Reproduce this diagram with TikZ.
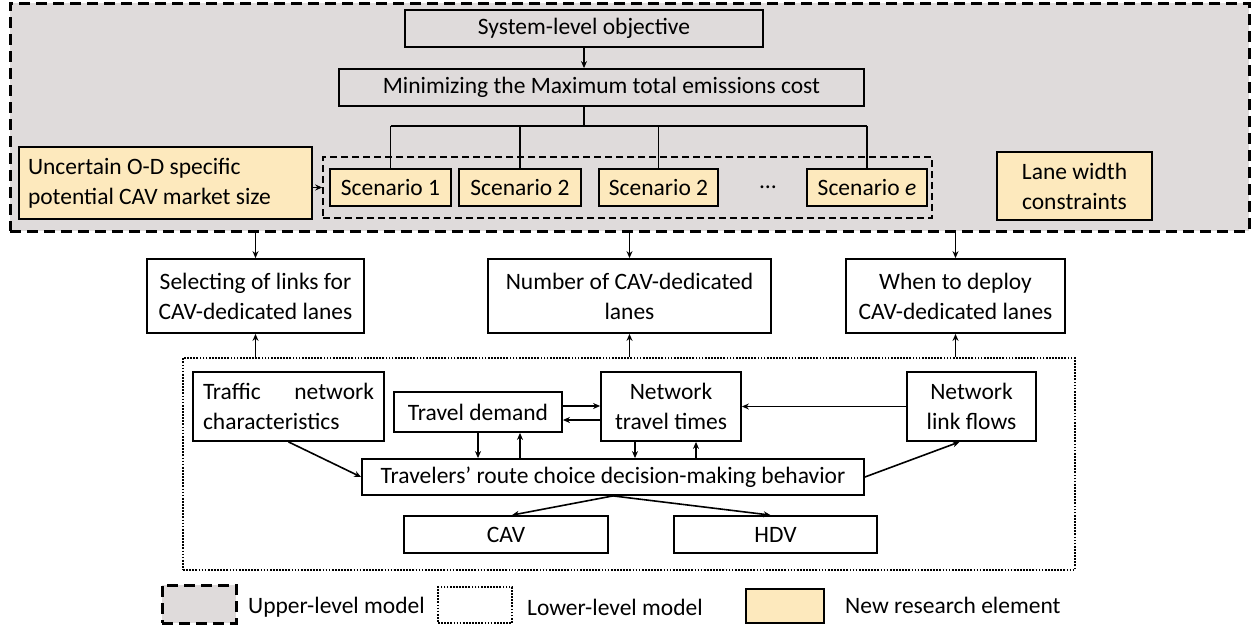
\documentclass[tikz,border=0pt]{standalone}
\usepackage{fontspec}
\setmainfont{Carlito}
\usetikzlibrary{arrows.meta}
\definecolor{upgray}{RGB}{223,219,219}
\definecolor{newyel}{RGB}{253,233,189}

\begin{document}
\begin{tikzpicture}[x=1pt,y=-1pt,
  font=\fontsize{23.5}{30}\selectfont,
  box/.style={draw, line width=1.8pt, inner sep=0pt, align=center},
  newbox/.style={box, fill=newyel},
  arr/.style={line width=1.6pt, -{Stealth[length=7pt,width=6pt]}},
  link/.style={line width=1.6pt},
  upperframe/.style={draw, line width=3pt, dash pattern=on 11pt off 6pt, fill=upgray, inner sep=0pt},
  scenframe/.style={draw, line width=1.6pt, dash pattern=on 7pt off 4pt, inner sep=0pt},
  lowerframe/.style={draw, line width=2.5pt, dash pattern=on 1.7pt off 1.4pt, inner sep=0pt},
  legtext/.style={anchor=west, inner sep=0pt}
]
\useasboundingbox (0,0) rectangle (1252,629);

% upper-level model frame
\node[upperframe, minimum width=1239pt, minimum height=228pt] (upper) at (629.5,117) {};

\node[box, minimum width=358pt, minimum height=37pt] (sys) at (584,28.5) {System-level objective};
\node[box, minimum width=525pt, minimum height=37pt] (mini) at (601.5,87.5) {Minimizing the Maximum total emissions cost};

\node[scenframe, minimum width=609pt, minimum height=61pt] (scen) at (627.5,187.5) {};
\node[newbox, minimum width=121pt, minimum height=37pt] (sc1) at (390.5,187.5) {Scenario 1};
\node[newbox, minimum width=122pt, minimum height=37pt] (sc2) at (520,187.5) {Scenario 2};
\node[newbox, minimum width=119pt, minimum height=37pt] (sc3) at (658.5,187.5) {Scenario 2};
\node[newbox, minimum width=120pt, minimum height=37pt] (sce) at (867,187.5) {Scenario \textit{e}};
\node[inner sep=0pt] (dots) at (768,187.5) {…};

\node[newbox, minimum width=293pt, minimum height=72pt, align=flush left, text width=275pt] (unc) at (165.5,183)
  {Uncertain O-D specific\\potential CAV market size};
\node[newbox, minimum width=155pt, minimum height=68pt] (lane) at (1074.5,186) {Lane width\\constraints};

% decision variables
\node[box, minimum width=217pt, minimum height=74pt] (sel) at (255.5,296) {Selecting of links for\\CAV-dedicated lanes};
\node[box, minimum width=283pt, minimum height=74pt] (num) at (629.5,296) {Number of CAV-dedicated\\lanes};
\node[box, minimum width=219pt, minimum height=74pt] (when) at (955.5,296) {When to deploy\\CAV-dedicated lanes};

% lower-level model frame
\node[lowerframe, minimum width=892pt, minimum height=212pt] (lower) at (629,464) {};

\node[box, minimum width=191pt, minimum height=69pt, align=flush left, text width=171pt] (traffic) at (288.5,406.5)
  {Traffic\hfill network\\characteristics};
\node[box, minimum width=168pt, minimum height=40pt] (demand) at (478,412) {Travel demand};
\node[box, minimum width=140pt, minimum height=69pt] (nett) at (671,406.5) {Network\\travel times};
\node[box, minimum width=129pt, minimum height=69pt] (flows) at (971.5,406.5) {Network\\link flows};
\node[box, minimum width=502pt, minimum height=36pt] (trav) at (613,477) {Travelers’ route choice decision-making behavior};
\node[box, minimum width=204pt, minimum height=37pt] (cav) at (506,534.5) {CAV};
\node[box, minimum width=203pt, minimum height=37pt] (hdv) at (775.5,534.5) {HDV};

% legend
\node[upperframe, minimum width=74pt, minimum height=38pt] (legU) at (199,604) {};
\node[legtext] (legUt) at (248,607) {Upper-level model};
\node[lowerframe, minimum width=74pt, minimum height=36pt] (legL) at (475,605) {};
\node[legtext] (legLt) at (527,607) {Lower-level model};
\node[newbox, minimum width=78pt, minimum height=34pt] (legN) at (785,606) {};
\node[legtext] (legNt) at (845,605) {New research element};

% objective tree
\draw[arr] (sys.south) -- (sys.south |- mini.north);
\draw[link] (sys.south |- mini.south) -- ++(0,19) coordinate (fork);
\draw[link] (sc1.north |- fork) -- (sce.north |- fork);
\foreach \s in {sc1,sc2,sc3,sce} \draw[link] (\s.north |- fork) -- (\s.north);
\draw[arr] (unc.east |- scen.west) -- (scen.west);

% upper level to decisions
\draw[arr] (sel.north |- upper.south) -- (sel.north);
\draw[arr] (num.north |- upper.south) -- (num.north);
\draw[arr] (when.north |- upper.south) -- (when.north);

% lower level to decisions
\draw[arr] (sel.south |- lower.north) -- (sel.south);
\draw[arr] (num.south |- lower.north) -- (num.south);
\draw[arr] (when.south |- lower.north) -- (when.south);

% lower-level interactions
\coordinate (dA) at ([yshift=6pt]demand.east);
\coordinate (dB) at ([yshift=-8pt]demand.east);
\draw[arr] (dA) -- (dA -| nett.west);
\draw[arr] (dB -| nett.west) -- (dB);
\coordinate (dC) at ([xshift=42pt]demand.south);
\draw[arr] (demand.south) -- (demand.south |- trav.north);
\draw[arr] (dC |- trav.north) -- (dC);
\coordinate (nA) at ([xshift=-36pt]nett.south);
\coordinate (nB) at ([xshift=25pt]nett.south);
\draw[arr] (nA) -- (nA |- trav.north);
\draw[arr] (nB |- trav.north) -- (nB);
\draw[arr] (flows.west) -- (nett.east);
\draw[arr] (traffic.south) -- (trav.west);
\draw[arr] (trav.east) -- ([xshift=-12pt]flows.south);
\draw[arr] (trav.south) -- ([xshift=6pt]cav.north);
\draw[arr] (trav.south) -- ([xshift=-5pt]hdv.north);
\end{tikzpicture}
\end{document}
